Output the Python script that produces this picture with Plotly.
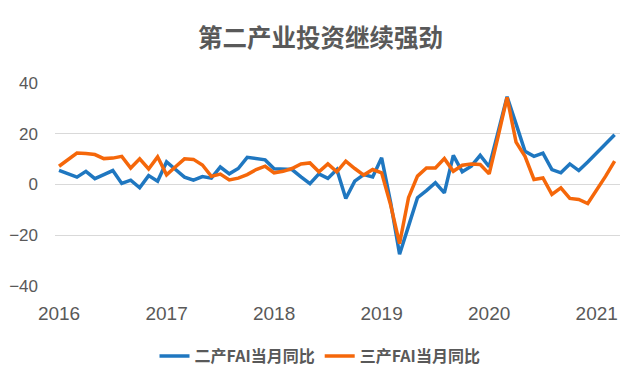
import plotly.graph_objects as go

months = [f"{y}-{m:02d}" for y in range(2016, 2022) for m in range(1, 13)][:63]

secondary_fai = [5.6, 4.3, 2.9, 5.2, 2.3, 3.9, 5.5, 0.4, 1.7, -1.3, 3.5, 1.3,
                 8.9, 5.9, 2.9, 1.7, 3.1, 2.5, 6.9, 4.2, 6.3, 10.7, 10.1, 9.7,
                 6.2, 6.2, 5.9, 3.0, 0.3, 4.2, 2.4, 5.9, -5.5, 1.3, 3.9, 3.0,
                 10.5, -7.0, -27.5, -16.4, -5.2, -2.4, 0.7, -3.3, 11.5, 5.0, 7.2, 11.5,
                 7.0, 20.7, 34.6, 23.9, 13.1, 11.1, 12.4, 5.9, 4.6, 8.1, 5.5, 8.9,
                 12.4, 16.0, 19.6]

tertiary_fai = [7.2, 9.8, 12.4, 12.2, 11.8, 10.2, 10.4, 11.1, 6.5, 10.1, 6.1, 10.9,
                3.8, 7.0, 10.1, 9.9, 7.7, 3.2, 4.1, 1.8, 2.5, 3.9, 5.9, 7.2,
                4.6, 5.2, 6.3, 8.1, 8.5, 5.0, 8.1, 5.0, 9.2, 6.3, 3.7, 5.9,
                4.6, -8.0, -23.3, -5.2, 3.3, 6.5, 6.5, 10.2, 5.2, 7.6, 8.1, 7.9,
                4.2, 19.0, 34.3, 16.7, 11.1, 2.0, 2.6, -3.9, -1.3, -5.5, -5.9, -7.5,
                -2.4, 3.3, 9.2]

tick_labels = ["2016", "2017", "2018", "2019", "2020", "2021"]
tick_months = ["2016-01", "2017-01", "2018-01", "2019-01", "2020-01", "2021-01"]

series_names = ["二产FAI当月同比", "三产FAI当月同比"]
title_text = "第二产业投资继续强劲"

x_idx = list(range(len(months)))
tick_pos = [months.index(m) for m in tick_months]

blue = "#1F77C0"
orange = "#F5670A"
gray = "#595959"
num_font = "Liberation Sans, Arial, sans-serif"
cjk_font = "Noto Sans CJK SC, sans-serif"

# page body has an 8px margin, so the figure is drawn 8px smaller
W, H = 632, 376
L, R, T, B = 47, 20, 75, 97

fig = go.Figure()
fig.add_trace(go.Scatter(x=x_idx, y=secondary_fai, mode="lines", name=series_names[0],
                         line=dict(color=blue, width=3.5)))
fig.add_trace(go.Scatter(x=x_idx, y=tertiary_fai, mode="lines", name=series_names[1],
                         line=dict(color=orange, width=3.5)))

plot_w = W - L - R
plot_h = H - T - B

fig.update_layout(
    width=W, height=H,
    margin=dict(l=L, r=R, t=T, b=B),
    paper_bgcolor="white", plot_bgcolor="white",
    title=dict(text=f"<b>{title_text}</b>", x=(320.5 - 8) / W, xanchor="center",
               y=1 - 30 / H, yanchor="middle",
               font=dict(family=cjk_font, size=24.5, color=gray)),
    xaxis=dict(range=[-0.45, 62.6], tickmode="array", tickvals=tick_pos, ticktext=tick_labels,
               showgrid=False, zeroline=False, showline=False, ticks="", automargin=False,
               tickfont=dict(family=num_font, size=19, color=gray), ticklabelstandoff=14),
    yaxis=dict(range=[-40, 40], tickvals=[-40, -20, 0, 20, 40], showgrid=True,
               gridcolor="#D9D9D9", gridwidth=1, zeroline=True, zerolinecolor="#D9D9D9",
               zerolinewidth=1, showline=False, ticks="", automargin=False,
               tickfont=dict(family=num_font, size=17, color=gray), ticklabelstandoff=16),
    legend=dict(orientation="h", x=(312 - L) / plot_w, xanchor="center",
                y=-(348 - (T + plot_h)) / plot_h, yanchor="middle",
                font=dict(family=cjk_font, size=16, color=gray, weight="bold"), itemwidth=30,
                bgcolor="rgba(0,0,0,0)"),
    showlegend=True,
)

fig.write_html("out.html")
